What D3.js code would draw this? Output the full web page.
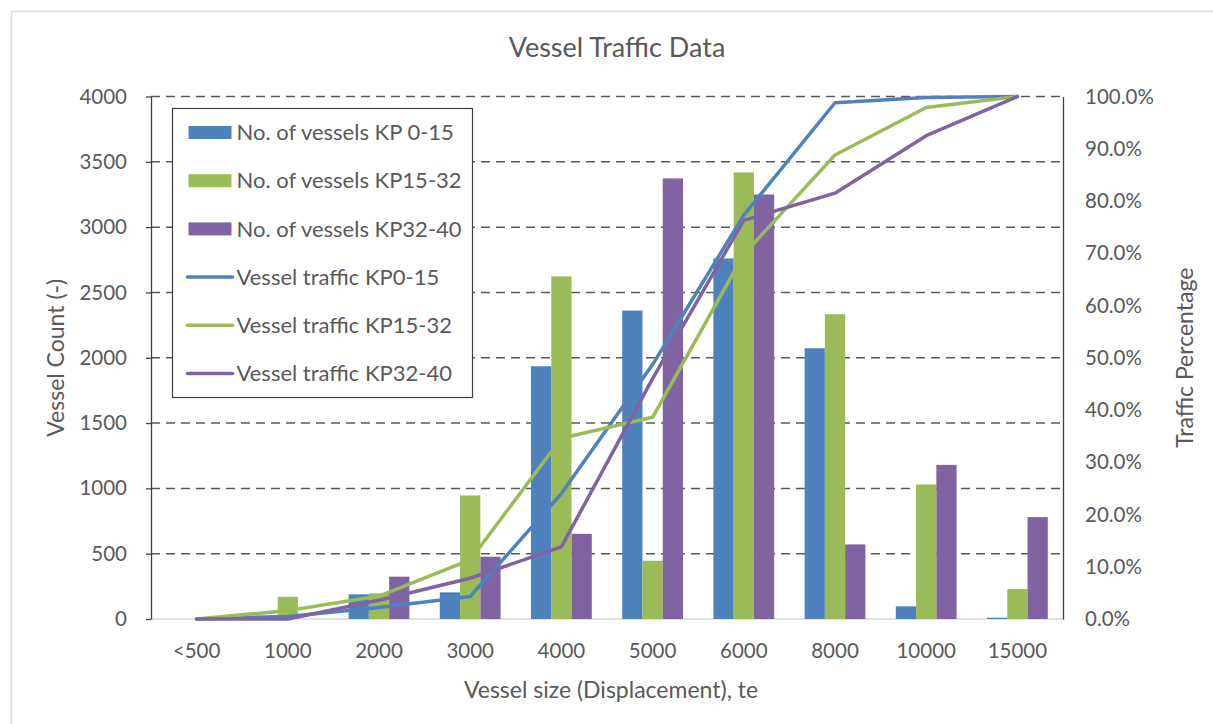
<!DOCTYPE html>
<html>
<head>
<meta charset="utf-8">
<script src="https://cdn.jsdelivr.net/npm/d3@7"></script>
<style>
  html, body { margin: 0; padding: 0; background: #fff; }
  svg { display: block; }
  text { font-family: Lato, "Open Sans", sans-serif; fill: #595959; }
</style>
</head>
<body>
<svg id="chart" width="1213" height="724"></svg>
<script>
// Vessel size classes (displacement, te)
const categories = ["<500", "1000", "2000", "3000", "4000", "5000", "6000", "8000", "10000", "15000"];

// Vessel counts per size class
const countKP0_15  = [0, 0, 189, 204, 1935, 2361, 2760, 2073, 97, 10];
const countKP15_32 = [0, 170, 196, 946, 2623, 446, 3419, 2333, 1030, 229];
const countKP32_40 = [0, 0, 324, 477, 652, 3373, 3250, 571, 1180, 780];

// Traffic percentage per size class (%)
const trafficKP0_15  = [0, 0.5, 2.2, 4.3, 24.0, 48.7, 77.3, 98.8, 99.8, 100];
const trafficKP15_32 = [0, 1.6, 4.4, 11.3, 34.6, 38.6, 69.8, 88.8, 97.9, 100];
const trafficKP32_40 = [0, 0, 3.6, 7.8, 13.8, 46.0, 76.3, 81.5, 92.5, 100];

const leftTicks  = [0, 500, 1000, 1500, 2000, 2500, 3000, 3500, 4000];
const rightTicks = [0, 10, 20, 30, 40, 50, 60, 70, 80, 90, 100];

const barSeries = [
  { name: "No. of vessels KP 0-15",  values: countKP0_15,  color: "#4F81BD" },
  { name: "No. of vessels KP15-32",  values: countKP15_32, color: "#9BBB59" },
  { name: "No. of vessels KP32-40",  values: countKP32_40, color: "#8064A2" }
];
const lineSeries = [
  { name: "Vessel traffic KP0-15",  values: trafficKP0_15,  color: "#4F81BD" },
  { name: "Vessel traffic KP15-32", values: trafficKP15_32, color: "#9BBB59" },
  { name: "Vessel traffic KP32-40", values: trafficKP32_40, color: "#8064A2" }
];

const svg = d3.select("#chart");
const plot = { left: 151, right: 1063, top: 96.5, bottom: 619 };
const tickFont = "20.5px";
const titleFont = "23px";

// outer chart frame
svg.append("rect")
  .attr("x", 11.5).attr("y", 11.5)
  .attr("width", 1240).attr("height", 760)
  .attr("fill", "#fff").attr("stroke", "#d9d9d9").attr("stroke-width", 1.5);

const x = d3.scaleBand().domain(categories)
  .range([plot.left, plot.right])
  .paddingInner(1 / 3).paddingOuter(1 / 6);
const xSub = d3.scaleBand().domain(barSeries.map(s => s.name))
  .range([0, x.bandwidth()]);
const yLeft = d3.scaleLinear().domain([0, 4000]).range([plot.bottom, plot.top]);
const yRight = d3.scaleLinear().domain([0, 100]).range([plot.bottom, plot.top]);
const xCenter = c => x(c) + x.bandwidth() / 2;

// dashed gridlines
svg.append("g").selectAll("line")
  .data(leftTicks.filter(v => v > 0))
  .join("line")
  .attr("x1", plot.left).attr("x2", plot.right)
  .attr("y1", d => yLeft(d)).attr("y2", d => yLeft(d))
  .attr("stroke", "#595959").attr("stroke-width", 1.5)
  .attr("stroke-dasharray", "9,6");

// baseline
svg.append("line")
  .attr("x1", plot.left).attr("x2", plot.right)
  .attr("y1", plot.bottom).attr("y2", plot.bottom)
  .attr("stroke", "#d9d9d9").attr("stroke-width", 1.5);

// bars
const groups = svg.append("g").selectAll("g")
  .data(categories)
  .join("g")
  .attr("transform", c => `translate(${x(c)},0)`);
groups.selectAll("rect")
  .data((c, i) => barSeries.map(s => ({ s, v: s.values[i] })))
  .join("rect")
  .attr("x", d => xSub(d.s.name))
  .attr("width", xSub.bandwidth())
  .attr("y", d => yLeft(d.v))
  .attr("height", d => plot.bottom - yLeft(d.v))
  .attr("fill", d => d.s.color);

// left axis
const axL = svg.append("g")
  .attr("transform", `translate(${plot.left},0)`)
  .call(d3.axisLeft(yLeft).tickValues(leftTicks).tickFormat(d3.format("d"))
    .tickSize(5).tickPadding(19).tickSizeOuter(0));
axL.select(".domain").attr("stroke", "#404040").attr("stroke-width", 1.3);
axL.selectAll(".tick line").attr("stroke", "#404040").attr("stroke-width", 1.3);
axL.selectAll(".tick text").style("font-size", tickFont).attr("fill", "#595959")
  .style("font-family", "Lato, sans-serif");

// right axis
const axR = svg.append("g")
  .attr("transform", `translate(${plot.right},0)`)
  .call(d3.axisRight(yRight).tickValues(rightTicks).tickSize(0).tickPadding(22)
    .tickFormat(d => d.toFixed(1) + "%"));
axR.select(".domain").attr("stroke", "#404040").attr("stroke-width", 1.3);
axR.selectAll(".tick text").style("font-size", tickFont).attr("fill", "#595959")
  .style("font-family", "Lato, sans-serif");

// bottom axis labels
const axB = svg.append("g")
  .attr("transform", `translate(0,${plot.bottom})`)
  .call(d3.axisBottom(x).tickSize(0).tickPadding(24));
axB.select(".domain").remove();
axB.selectAll(".tick text").style("font-size", tickFont).attr("fill", "#595959")
  .style("font-family", "Lato, sans-serif");

// traffic lines
const line = d3.line().x((d, i) => xCenter(categories[i])).y(d => yRight(d));
svg.append("g").selectAll("path")
  .data(lineSeries)
  .join("path")
  .attr("d", s => line(s.values))
  .attr("fill", "none")
  .attr("stroke", s => s.color)
  .attr("stroke-width", 3.5)
  .attr("stroke-linejoin", "round")
  .attr("stroke-linecap", "round");

// title and axis titles
svg.append("text").attr("x", 617).attr("y", 57)
  .attr("text-anchor", "middle").style("font-size", "27px")
  .text("Vessel Traffic Data");
svg.append("text").attr("x", 611).attr("y", 698)
  .attr("text-anchor", "middle").style("font-size", titleFont)
  .text("Vessel size (Displacement), te");
svg.append("text")
  .attr("transform", `translate(64,${(plot.top + plot.bottom) / 2}) rotate(-90)`)
  .attr("text-anchor", "middle").style("font-size", titleFont)
  .text("Vessel Count (-)");
svg.append("text")
  .attr("transform", `translate(1193,${(plot.top + plot.bottom) / 2}) rotate(-90)`)
  .attr("text-anchor", "middle").style("font-size", titleFont)
  .text("Traffic Percentage");

// legend
const legend = svg.append("g").attr("transform", "translate(172.5,108.5)");
legend.append("rect")
  .attr("width", 300).attr("height", 289)
  .attr("fill", "#fff").attr("stroke", "#404040").attr("stroke-width", 1.2);
const entries = barSeries.map(s => ({ ...s, kind: "bar" }))
  .concat(lineSeries.map(s => ({ ...s, kind: "line" })));
const li = legend.selectAll("g.entry")
  .data(entries)
  .join("g").attr("class", "entry")
  .attr("transform", (d, i) => `translate(0,${24 + i * 48.2})`);
li.filter(d => d.kind === "bar").append("rect")
  .attr("x", 16).attr("y", -6.5).attr("width", 43).attr("height", 13)
  .attr("fill", d => d.color);
li.filter(d => d.kind === "line").append("line")
  .attr("x1", 15).attr("x2", 60).attr("y1", 0).attr("y2", 0)
  .attr("stroke", d => d.color).attr("stroke-width", 3.5)
  .attr("stroke-linecap", "round");
li.append("text")
  .attr("x", 64).attr("y", 0).attr("dy", "0.35em")
  .style("font-size", "22px")
  .text(d => d.name);
</script>
</body>
</html>
